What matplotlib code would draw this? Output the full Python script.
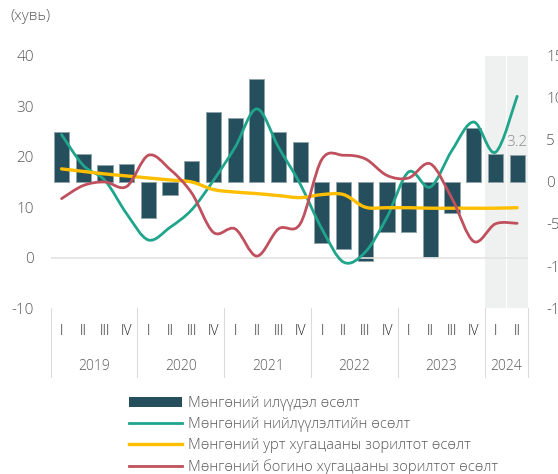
import numpy as np
import matplotlib
matplotlib.use("Agg")
import matplotlib.pyplot as plt
from matplotlib.path import Path
from matplotlib.patches import PathPatch
from matplotlib.lines import Line2D
from matplotlib.patches import Patch
import matplotlib.transforms as mtransforms

plt.rcParams['font.family'] = ['Open Sans', 'DejaVu Sans']
plt.rcParams['font.weight'] = 'light'
plt.rcParams['axes.unicode_minus'] = False

# ============================================================
# DATA (quarterly, 2019 Q1 - 2024 Q2)
# ============================================================
years = ["2019", "2020", "2021", "2022", "2023", "2024"]
quarters_per_year = [4, 4, 4, 4, 4, 2]
quarter_labels = ["I", "II", "III", "IV"] * 5 + ["I", "II"]

# money surplus growth (right axis)
surplus = [6.0, 3.3, 2.0, 2.1, -4.3, -1.6, 2.5, 8.3, 7.6, 12.3, 5.9, 4.8,
           -7.3, -8.0, -9.4, -6.0, -6.0, -8.9, -3.7, 6.4, 3.3, 3.2]
# money supply growth (left axis)
supply = [24.4, 18.3, 15.3, 8.7, 3.5, 6.0, 9.5, 15.3, 21.9, 29.5, 21.9, 14.6,
          5.7, -0.9, 1.1, 8.0, 17.0, 14.0, 21.3, 26.9, 20.9, 32.0]
# long-term target growth (left axis)
long_target = [17.6, 17.1, 16.6, 16.2, 15.8, 15.4, 15.0, 13.5, 13.0, 12.7, 12.3, 11.9,
               12.5, 12.5, 10.0, 9.9, 9.9, 9.8, 9.8, 9.8, 9.8, 9.9]
# short-term target growth (left axis)
short_target = [11.7, 14.3, 15.0, 14.1, 20.3, 17.5, 12.8, 5.0, 5.7, 0.3, 5.7, 6.7,
                19.5, 20.3, 19.6, 16.3, 15.8, 18.6, 11.7, 3.2, 6.7, 6.8]

labels = ["Мөнгөний илүүдэл өсөлт",
          "Мөнгөний нийлүүлэлтийн өсөлт",
          "Мөнгөний урт хугацааны зорилтот өсөлт",
          "Мөнгөний богино хугацааны зорилтот өсөлт"]

c_bar = "#264F5E"
c_teal = "#1FA58C"
c_yellow = "#FFBE00"
c_red = "#C0505D"
c_text = "#595959"
c_sep = "#DCDCDC"


def smooth_path(x, y, t=1 / 6):
    # Catmull-Rom style cubic bezier through the points
    p = np.column_stack([x, y]).astype(float)
    n = len(p)
    verts = [p[0]]
    codes = [Path.MOVETO]
    for i in range(n - 1):
        p_prev = p[max(i - 1, 0)]
        p_next = p[min(i + 2, n - 1)]
        c1 = p[i] + (p[i + 1] - p_prev) * t
        c2 = p[i + 1] - (p_next - p[i]) * t
        verts += [c1, c2, p[i + 1]]
        codes += [Path.CURVE4] * 3
    return Path(verts, codes)


x = np.arange(len(surplus))

fig = plt.figure(figsize=(5.58, 4.74), dpi=100)
ax = fig.add_axes([0.0909, 0.3502, 0.8553, 0.5317])
ax2 = ax.twinx()

# shaded 2024 area
ax.axvspan(19.5, 20.47, color="#EFF1F0", zorder=0, lw=0)
ax.axvspan(20.53, 21.5, color="#EFF1F0", zorder=0, lw=0)

# bars on right axis
ax.bar(x, surplus, width=0.7, color=c_bar, edgecolor="#8FA3AB", linewidth=0.7, zorder=2)
ax.set_ylim(-15, 15)
ax.set_yticks(np.arange(-15, 16, 5))
ax.yaxis.tick_right()
ax.text(x[-1], surplus[-1] + 0.6, "3.2", ha="center", va="bottom", fontsize=11, color="#8C8C8C")

# lines on left axis
ax2.axhline(0, color="#E3E3E3", lw=1.2, zorder=1)
for series, col, lw in [(supply, c_teal, 2.0), (long_target, c_yellow, 2.4), (short_target, c_red, 2.0)]:
    ax2.add_patch(PathPatch(smooth_path(x, series), fill=False, edgecolor=col, lw=lw,
                            capstyle="round", joinstyle="round", zorder=3))
ax2.set_ylim(-10, 40)
ax2.set_yticks(np.arange(-10, 41, 10))
ax2.yaxis.tick_left()
ax.set_xlim(-0.5, 21.5)
ax.set_xticks([])

for a in (ax, ax2):
    for s in a.spines.values():
        s.set_visible(False)
ax.tick_params(axis="y", length=0, pad=13, labelsize=11, labelcolor=c_text)
ax2.tick_params(axis="y", length=0, pad=12, labelsize=11, labelcolor=c_text)

# two-level category axis
trans = mtransforms.blended_transform_factory(ax.transData, ax.transAxes)
for i, q in enumerate(quarter_labels):
    ax.text(i, -0.094, q, transform=trans, ha="center", va="center", fontsize=10, color="#262626")
bounds = np.concatenate([[0], np.cumsum(quarters_per_year)]) - 0.5
for yr, lo, hi in zip(years, bounds[:-1], bounds[1:]):
    ax.text((lo + hi) / 2, -0.233, yr, transform=trans, ha="center", va="center",
            fontsize=10, color=c_text)
for b in bounds:
    ax.add_line(Line2D([b, b], [0.0, -0.274], transform=trans, color=c_sep, lw=0.8, clip_on=False))

fig.text(10 / 558, 1 - 17 / 474, "(хувь)", ha="left", va="center", fontsize=11, color=c_text)

handles = [Patch(facecolor=c_bar, edgecolor="none"),
           Line2D([], [], color=c_teal, lw=2.0),
           Line2D([], [], color=c_yellow, lw=2.4),
           Line2D([], [], color=c_red, lw=2.0)]
fig.legend(handles, labels, loc="upper left", bbox_to_anchor=(116 / 558, 1 - 383 / 474),
           frameon=False, fontsize=10.6, handlelength=3.6, handleheight=0.6,
           handletextpad=0.4, labelspacing=0.4, labelcolor=c_text)

fig.savefig("out.png", dpi=100)
